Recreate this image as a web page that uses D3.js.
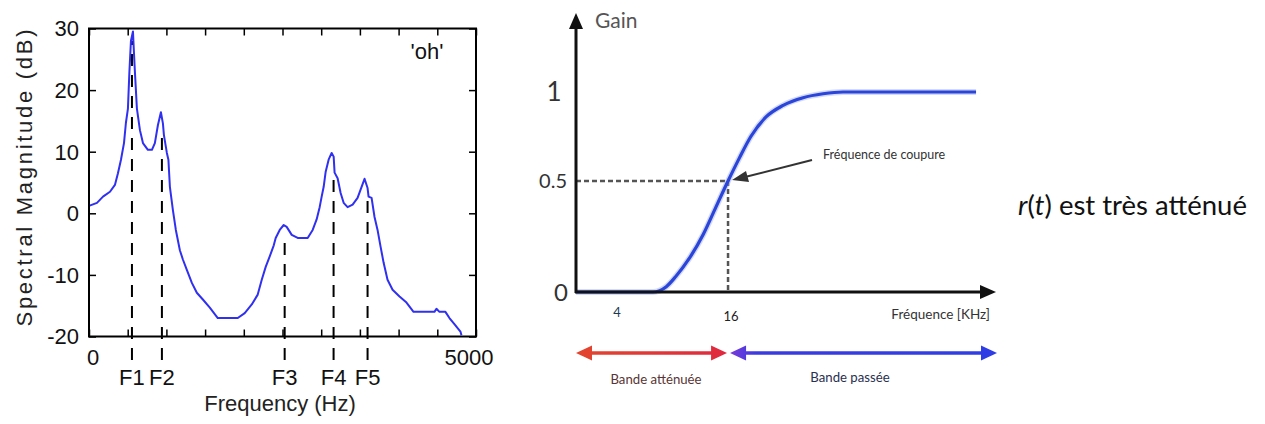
<!DOCTYPE html>
<html><head><meta charset="utf-8">
<script src="https://cdn.jsdelivr.net/npm/d3@7"></script>
<style>
html,body{margin:0;padding:0;background:#fff;}
svg{display:block;}
</style></head>
<body>
<svg id="c" width="1265" height="424"></svg>
<script>
// ---------- Left chart data: spectrum of 'oh' ----------
const specFreq = [0,103,181,271,335,374,413,452,477,503,522,542,568,581,593,619,658,697,761,813,851,890,929,955,968,1006,1026,1045,1084,1122,1174,1213,1264,1329,1393,1471,1561,1664,1922,2012,2103,2180,2232,2283,2335,2387,2412,2464,2516,2554,2619,2696,2825,2890,2941,2980,3006,3032,3057,3096,3135,3161,3173,3212,3251,3290,3341,3406,3470,3522,3560,3599,3612,3651,3689,3728,3767,3806,3857,3922,4012,4102,4193,4463,4489,4528,4605,4657,4721,4799,4812];
const specDb = [1.2,1.7,2.7,3.5,4.6,6.5,8.7,11.4,14.7,17,23,28,29.5,26,23,17,13.5,11.4,10.3,10.3,11.4,14.3,16.4,14.6,12.7,9.8,8.7,4.3,0.5,-2.7,-6,-7.5,-9.2,-11.3,-12.9,-14,-15.3,-17,-17,-16.2,-14.8,-13.2,-10.8,-8.7,-7,-5.2,-4,-2.7,-1.9,-2.2,-3.5,-4,-4,-2.7,-1,1,2.7,4.3,6.7,8.7,9.8,9.2,6.6,5.7,3.3,1.7,1,1.4,2.5,4.3,5.6,4.1,2.7,2.5,-0.6,-2.7,-5.4,-8,-10.8,-12.4,-13.5,-14.5,-16,-16,-15.5,-16,-16,-17,-18,-19.2,-19.8];
const formantNames = ["F1","F2","F3","F4","F5"];
const formantFreq = [555,942,2528,3160,3599];
const formantTop = [28,13.5,-3.8,6.6,3];
const specYTicks = [-20,-10,0,10,20,30];
const specXTicks = d3.range(0,5001,500);
const specXLabels = [0,5000];

// ---------- Right chart data: low-cut filter gain ----------
const gainFreq = [0,8.1,9.5,10.5,11.9,13.4,14.7,16,17.2,18.4,20,21.8,23.9,26,28.1,42.1];
const gainVal  = [0,0,0.024,0.07,0.15,0.26,0.38,0.5,0.63,0.75,0.86,0.925,0.968,0.99,1.0,1.0];
const gainTickLabels = ["0","0.5","1"];
const gainTicks = [0,0.5,1];
const freqTickLabels = [4,16];
const cutoffFreq = 16, cutoffGain = 0.5;

const svg = d3.select("#c");
svg.append("rect").attr("width",1265).attr("height",424).attr("fill","#fff");

// ===== LEFT =====
const L = {x0:89, x1:476, y0:336.5, y1:28.5};
const xs = d3.scaleLinear().domain([0,5000]).range([L.x0,L.x1]);
const ys = d3.scaleLinear().domain([-20,30]).range([L.y0,L.y1]);
const gl = svg.append("g");
const lf = "'Liberation Sans', Arial, sans-serif";

// formant dashed lines
formantFreq.forEach((f,i)=>{
  gl.append("line").attr("x1",xs(f)).attr("x2",xs(f))
    .attr("y1",360).attr("y2",ys(formantTop[i]))
    .attr("stroke","#000").attr("stroke-width",2).attr("stroke-dasharray","12,9");
  gl.append("text").attr("x",xs(f)).attr("y",385).attr("text-anchor","middle")
    .attr("font-family",lf).attr("font-size",22).attr("fill","#111").text(formantNames[i]);
});

// spectrum curve
const specData = specFreq.map((f,i)=>[f,specDb[i]]);
gl.append("path").datum(specData)
  .attr("d", d3.line().x(d=>xs(d[0])).y(d=>ys(d[1])))
  .attr("fill","none").attr("stroke","#3030f0").attr("stroke-width",2).attr("stroke-linejoin","round");

// frame
gl.append("rect").attr("x",L.x0).attr("y",L.y1).attr("width",L.x1-L.x0).attr("height",L.y0-L.y1)
  .attr("fill","none").attr("stroke","#000").attr("stroke-width",2);
// ticks (inward) using axes
const tl = 7;
gl.append("g").attr("transform",`translate(0,${L.y0})`)
  .call(d3.axisTop(xs).tickValues(specXTicks).tickSize(tl).tickFormat(""))
  .call(g=>g.select(".domain").remove()).selectAll("line").attr("stroke","#000").attr("stroke-width",1.5);
gl.append("g").attr("transform",`translate(0,${L.y1})`)
  .call(d3.axisBottom(xs).tickValues(specXTicks).tickSize(tl).tickFormat(""))
  .call(g=>g.select(".domain").remove()).selectAll("line").attr("stroke","#000").attr("stroke-width",1.5);
gl.append("g").attr("transform",`translate(${L.x0},0)`)
  .call(d3.axisRight(ys).tickValues(specYTicks).tickSize(tl).tickFormat(""))
  .call(g=>g.select(".domain").remove()).selectAll("line").attr("stroke","#000").attr("stroke-width",1.5);
gl.append("g").attr("transform",`translate(${L.x1},0)`)
  .call(d3.axisLeft(ys).tickValues(specYTicks).tickSize(tl).tickFormat(""))
  .call(g=>g.select(".domain").remove()).selectAll("line").attr("stroke","#000").attr("stroke-width",1.5);
// y labels
specYTicks.forEach(v=>{
  gl.append("text").attr("x",79).attr("y",ys(v)).attr("dy","0.36em").attr("text-anchor","end")
    .attr("font-family",lf).attr("font-size",22).attr("fill","#111").text(v);
});
// x labels
specXLabels.forEach(v=>{
  gl.append("text").attr("x",xs(v)+(v===0?4:-7)).attr("y",365).attr("text-anchor","middle")
    .attr("font-family",lf).attr("font-size",22).attr("fill","#111").text(v);
});
gl.append("text").attr("x",280).attr("y",411).attr("text-anchor","middle")
  .attr("font-family",lf).attr("font-size",22).attr("fill","#222").text("Frequency (Hz)");
gl.append("text").attr("transform","translate(32,178) rotate(-90)").attr("text-anchor","middle")
  .attr("font-family",lf).attr("font-size",22).attr("fill","#222")
  .attr("textLength",297).attr("lengthAdjust","spacing").text("Spectral Magnitude (dB)");
gl.append("text").attr("x",427).attr("y",59).attr("text-anchor","middle")
  .attr("font-family",lf).attr("font-size",22).attr("fill","#111").text("'oh'");

// ===== RIGHT =====
const rf = "Lato, 'Open Sans', sans-serif";
const R = {x0:576, x1:996, y0:292, yTop:13};
const xr = d3.scaleLinear().domain([0,44.2]).range([R.x0,R.x1]);
const yr = d3.scaleLinear().domain([0,0.5,1]).range([292,181,92]);
const gr = svg.append("g");

// dashed cutoff guides
gr.append("line").attr("x1",R.x0).attr("x2",xr(cutoffFreq)).attr("y1",yr(cutoffGain)).attr("y2",yr(cutoffGain))
  .attr("stroke","#555").attr("stroke-width",2.5).attr("stroke-dasharray","5,3");
gr.append("line").attr("x1",xr(cutoffFreq)).attr("x2",xr(cutoffFreq)).attr("y1",yr(cutoffGain)).attr("y2",R.y0)
  .attr("stroke","#555").attr("stroke-width",2.5).attr("stroke-dasharray","5,3");

// gain curve
const gainData = gainFreq.map((f,i)=>[f,gainVal[i]]);
const gline = d3.line().x(d=>xr(d[0])).y(d=>yr(d[1])).curve(d3.curveMonotoneX);
gr.append("path").datum(gainData).attr("d", gline)
  .attr("fill","none").attr("stroke","#8fa0f0").attr("stroke-width",6).attr("opacity",0.4);
gr.append("path").datum(gainData).attr("d", gline)
  .attr("fill","none").attr("stroke","#2b45d8").attr("stroke-width",3.2);

// axes with arrows
gr.append("line").attr("x1",R.x0).attr("x2",R.x0).attr("y1",R.y0+1).attr("y2",R.yTop+12)
  .attr("stroke","#111").attr("stroke-width",3);
gr.append("path").attr("d",`M${R.x0},${R.yTop} L${R.x0-7},${R.yTop+16} L${R.x0+7},${R.yTop+16} Z`).attr("fill","#111");
gr.append("line").attr("x1",R.x0-1).attr("x2",R.x1-12).attr("y1",R.y0).attr("y2",R.y0)
  .attr("stroke","#111").attr("stroke-width",3);
gr.append("path").attr("d",`M${R.x1},${R.y0} L${R.x1-16},${R.y0-7} L${R.x1-16},${R.y0+7} Z`).attr("fill","#111");

// y labels
const gainLabelSize = [24,20,26], gainLabelX = [561,567,554], gainAnchor=["middle","end","middle"];
gainTicks.forEach((v,i)=>{
  gr.append("text").attr("x",gainLabelX[i]).attr("y",yr(v)).attr("dy","0.36em").attr("text-anchor",gainAnchor[i])
    .attr("font-family",rf).attr("font-size",gainLabelSize[i]).attr("fill","#333").text(gainTickLabels[i]);
});
gr.append("text").attr("x",595).attr("y",28).attr("font-family",rf).attr("font-size",21).attr("fill","#555").text("Gain");

// x labels
freqTickLabels.forEach((v,i)=>{
  gr.append("text").attr("x",xr(v)+3).attr("y",i===0?317:321).attr("text-anchor","middle")
    .attr("font-family",rf).attr("font-size",13).attr("fill",i===0?"#1d3b4f":"#222").text(v);
});
gr.append("text").attr("x",990).attr("y",319).attr("text-anchor","end")
  .attr("font-family",rf).attr("font-size",13.5).attr("fill","#333").text("Fréquence [KHz]");

// cutoff annotation
gr.append("text").attr("x",823).attr("y",159).attr("font-family",rf).attr("font-size",12.5).attr("fill","#333").text("Fréquence de coupure");
gr.append("line").attr("x1",812).attr("y1",160).attr("x2",745).attr("y2",177).attr("stroke","#333").attr("stroke-width",2);
gr.append("path").attr("d","M732,180 L746,171 L749,182 Z").attr("fill","#333");

// band arrows
const defs = svg.append("defs");
const gb = defs.append("linearGradient").attr("id","gblue").attr("gradientUnits","userSpaceOnUse")
  .attr("x1",xr(cutoffFreq)+2).attr("x2",R.x1+1).attr("y1",0).attr("y2",0);
gb.append("stop").attr("offset","0%").attr("stop-color","#7a3ad8");
gb.append("stop").attr("offset","10%").attr("stop-color","#3a3ae0");
gb.append("stop").attr("offset","100%").attr("stop-color","#2e3ee4");
const gred = defs.append("linearGradient").attr("id","gred").attr("gradientUnits","userSpaceOnUse")
  .attr("x1",xr(0)).attr("x2",xr(cutoffFreq)).attr("y1",0).attr("y2",0);
gred.append("stop").attr("offset","0%").attr("stop-color","#e2452e");
gred.append("stop").attr("offset","100%").attr("stop-color","#e0283e");
function dblArrow(xa, xb, y, fill){
  const h=16, w=7.5;
  gr.append("line").attr("x1",xa+h-2).attr("x2",xb-h+2).attr("y1",y).attr("y2",y).attr("stroke",fill).attr("stroke-width",3.5);
  gr.append("path").attr("d",`M${xa},${y} L${xa+h},${y-w} L${xa+h},${y+w} Z`).attr("fill",fill);
  gr.append("path").attr("d",`M${xb},${y} L${xb-h},${y-w} L${xb-h},${y+w} Z`).attr("fill",fill);
}
dblArrow(xr(0), xr(cutoffFreq)-1, 353, "url(#gred)");
dblArrow(xr(cutoffFreq)+2, R.x1+1, 353, "url(#gblue)");
gr.append("text").attr("x",656).attr("y",384).attr("text-anchor","middle").attr("font-family",rf).attr("font-size",13.2).attr("fill","#5a3535").text("Bande atténuée");
gr.append("text").attr("x",850).attr("y",382).attr("text-anchor","middle").attr("font-family",rf).attr("font-size",13.2).attr("fill","#2a3050").text("Bande passée");

// side remark
const tx = svg.append("text").attr("x",1018).attr("y",215).attr("font-family",rf).attr("font-size",27.5).attr("fill","#111");
tx.append("tspan").attr("font-style","italic").text("r");
tx.append("tspan").text("(");
tx.append("tspan").attr("font-style","italic").text("t");
tx.append("tspan").text(") est très atténué");
</script>
</body></html>
